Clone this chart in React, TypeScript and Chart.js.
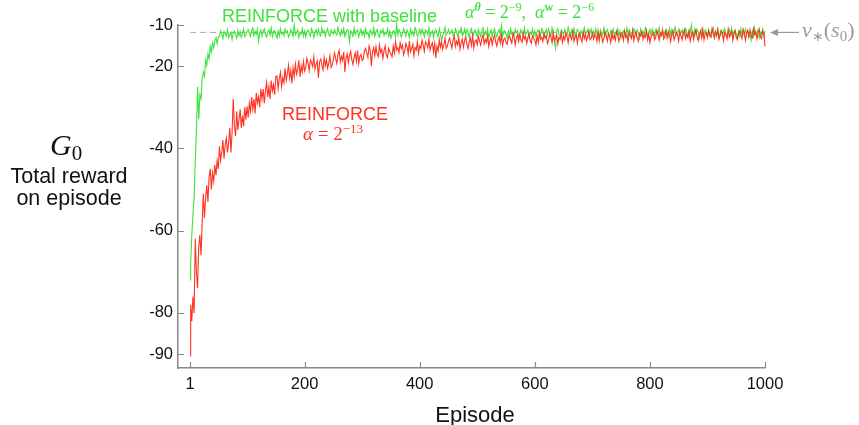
import React, { useEffect, useRef } from "react";
import { Chart, registerables } from "chart.js";

Chart.register(...registerables);

// Episodes sampled every 2 episodes (1, 2, 4, ..., 1000)
const EPISODES: number[] = [1, ...Array.from({ length: 500 }, (_, i) => (i + 1) * 2)];

const X_TICKS = [1, 200, 400, 600, 800, 1000];
const Y_TICKS = [-10, -20, -40, -60, -80, -90];
const V_STAR = -11.8;

// REINFORCE with baseline (alpha^theta = 2^-9, alpha^w = 2^-6)
const BASELINE_RETURN = [
  -72,
  -68, -61, -56, -52, -43, -36, -25, -33, -27, -28, -23, -21.5, -22.5, -18.5, -19.8, -17, -18.2, -15.2, -16.6, -14.4, -15.6, -13.8, -13.1, -14.6, -12.9,
  -12.8, -11.4, -12.2, -13.3, -11.6, -12.0, -12.7, -11.1, -13.1, -12.3, -11.8, -13.5, -11.9, -11.5, -12.4, -13.2, -11.3, -12.6, -11.6, -13.0, -12.2, -11.0, -12.8, -12.4, -11.5,
  -11.1, -12.0, -12.8, -11.4, -10.7, -12.6, -11.6, -12.3, -11.0, -13.9, -11.9, -11.2, -12.7, -11.5, -10.9, -12.2, -12.9, -11.8, -11.1, -12.4, -10.7, -12.8, -11.6, -11.4, -12.3,
  -13.2, -11.5, -12.7, -10.9, -12.2, -11.8, -12.6, -11.0, -11.9, -11.4, -12.9, -12.3, -11.1, -11.6, -12.8, -10.0, -12.4, -11.9, -11.2, -13.1, -11.8, -12.2, -10.9, -12.7, -11.5,
  -12.9, -11.6, -11.2, -12.0, -12.7, -10.9, -11.5, -13.1, -11.8, -11.1, -12.4, -11.0, -12.2, -12.6, -10.7, -11.9, -11.4, -12.8, -11.6, -10.9, -12.3, -12.7, -11.2, -11.8, -12.2,
  -11.1, -12.0, -12.4, -10.6, -11.8, -12.6, -11.2, -12.2, -10.9, -12.8, -12.0, -11.1, -11.5, -14.1, -11.4, -11.9, -12.7, -10.7, -12.3, -11.6, -11.2, -12.9, -11.8, -11.0, -12.4,
  -11.5, -12.7, -10.9, -12.2, -11.8, -13.1, -11.2, -11.9, -12.4, -10.7, -12.8, -11.6, -11.1, -12.3, -12.9, -11.4, -11.9, -11.0, -12.6, -11.8, -12.2, -10.9, -12.7, -11.5, -13.2,
  -12.3, -11.4, -11.6, -12.8, -9.9, -12.4, -11.1, -11.8, -12.9, -12.2, -10.9, -11.5, -12.7, -11.2, -11.9, -13.1, -11.0, -12.3, -11.6, -12.6, -10.7, -11.4, -12.8, -12.0, -11.1,
  -12.4, -11.0, -11.8, -12.9, -11.2, -11.6, -12.3, -10.7, -12.7, -11.9, -11.4, -13.1, -11.5, -11.1, -12.0, -12.8, -10.9, -12.2, -13.8, -12.6, -11.8, -10.6, -12.4, -12.0, -11.1,
  -12.2, -11.8, -11.2, -12.7, -12.3, -10.9, -11.6, -12.8, -11.4, -11.9, -10.7, -12.6, -12.2, -11.0, -12.4, -11.1, -11.8, -13.1, -11.5, -10.9, -12.7, -12.0, -11.2, -11.6, -12.9,
  -11.1, -12.0, -12.8, -11.4, -10.7, -12.6, -11.6, -12.3, -11.0, -13.1, -11.9, -11.2, -12.7, -11.5, -10.9, -12.2, -12.9, -11.8, -11.1, -12.4, -10.1, -12.8, -11.6, -11.4, -12.3,
  -13.2, -11.5, -12.7, -10.9, -12.2, -11.8, -12.6, -11.0, -11.9, -11.4, -12.9, -12.3, -11.1, -11.6, -12.8, -10.7, -12.4, -11.9, -11.2, -13.1, -11.8, -12.2, -10.9, -12.7, -11.5,
  -12.9, -11.6, -11.2, -12.0, -12.7, -10.9, -11.5, -13.1, -11.8, -11.1, -12.4, -11.0, -12.2, -12.6, -10.7, -11.9, -14.2, -15.6, -11.6, -10.9, -12.3, -12.7, -11.2, -11.8, -12.2,
  -11.1, -12.0, -12.4, -10.6, -11.8, -12.6, -11.2, -12.2, -10.9, -12.8, -12.0, -11.1, -11.5, -13.1, -11.4, -11.9, -12.7, -10.7, -12.3, -11.6, -11.2, -12.9, -11.8, -11.0, -12.4,
  -11.5, -12.7, -10.9, -12.2, -11.8, -13.9, -11.2, -11.9, -12.4, -10.7, -12.8, -11.6, -11.1, -12.3, -12.9, -11.4, -11.9, -11.0, -12.6, -11.8, -12.2, -10.9, -12.7, -11.5, -13.2,
  -12.3, -11.4, -11.6, -12.8, -10.7, -12.4, -11.1, -11.8, -12.9, -12.2, -10.9, -11.5, -12.7, -11.2, -11.9, -13.1, -11.0, -12.3, -11.6, -12.6, -10.7, -11.4, -12.8, -12.0, -11.1,
  -12.4, -11.0, -11.8, -12.9, -11.2, -11.6, -12.3, -10.7, -12.7, -11.9, -11.4, -13.1, -11.5, -11.1, -12.0, -12.8, -10.9, -12.2, -11.2, -12.6, -11.8, -10.6, -12.4, -12.0, -11.1,
  -12.2, -11.8, -11.2, -12.7, -12.3, -10.9, -11.6, -12.8, -11.4, -11.9, -10.0, -12.6, -12.2, -11.0, -12.4, -11.1, -11.8, -13.1, -11.5, -10.9, -12.7, -12.0, -11.2, -11.6, -12.9,
  -11.1, -12.0, -12.8, -11.4, -10.7, -12.6, -11.6, -12.3, -11.0, -13.1, -11.9, -11.2, -12.7, -11.5, -10.9, -12.2, -12.9, -11.8, -11.1, -12.4, -10.7, -12.8, -11.6, -11.4, -12.3,
  -13.2, -11.5, -12.7, -10.9, -12.2, -11.8, -12.6, -11.0, -11.9, -11.4, -12.9, -12.3, -13.7, -11.6, -12.8, -10.7, -12.4, -11.9, -11.2, -13.1, -11.8, -12.2, -10.9, -12.7, -11.5,
];

// REINFORCE (alpha = 2^-13)
const REINFORCE_RETURN = [
  -90.5,
  -78, -82, -76, -80, -62, -70, -74, -64, -61, -66, -58, -51, -57, -52, -49, -53, -47, -45, -50, -46, -48, -44, -46.5, -43, -45,
  -39.5, -43, -41, -38, -42.5, -39, -37.5, -41, -38.5, -35, -41, -36, -28, -34.5, -37, -31, -35.5, -33, -30.5, -35, -32, -34.6, -30, -33, -29.8,
  -32.5, -29, -31, -27.5, -30.5, -28, -31.5, -26.5, -29, -27.5, -30, -25.5, -28, -25.6, -29, -26, -24, -27.5, -25, -28, -23.5, -26, -24.5, -27, -22.5,
  -22.4, -25.5, -23, -21.5, -25, -22.8, -24, -20.5, -23.5, -21.8, -19.8, -23, -21, -24.2, -20.4, -22.5, -19.5, -22, -20.8, -18.6, -22.6, -20, -21.4, -18.9, -21.2,
  -20.3, -18.1, -19.3, -21.1, -18.5, -19.1, -20.1, -17.7, -20.7, -19.5, -18.7, -22.8, -18.9, -18.3, -19.7, -20.9, -17.9, -19.9, -18.5, -20.5, -19.3, -17.5, -20.3, -19.7, -18.3,
  -16.8, -18.2, -19.4, -17.2, -16.2, -19.0, -17.6, -18.6, -16.6, -21.4, -18.0, -17.0, -19.2, -17.4, -16.4, -18.4, -19.6, -17.8, -16.8, -18.8, -16.2, -19.4, -17.6, -17.2, -18.6,
  -18.3, -16.3, -15.7, -16.9, -17.9, -15.1, -16.1, -20.0, -16.5, -15.5, -17.5, -15.3, -17.1, -17.7, -14.9, -16.7, -15.9, -18.1, -16.3, -15.1, -17.3, -17.9, -15.7, -16.5, -17.1,
  -17.7, -15.1, -16.9, -14.1, -16.1, -15.5, -16.7, -14.3, -15.7, -14.9, -17.3, -16.3, -14.5, -15.3, -17.1, -13.9, -16.5, -15.7, -14.7, -17.5, -15.5, -16.1, -14.1, -16.9, -15.1,
  -15.7, -13.7, -14.8, -16.4, -14.1, -14.6, -15.5, -13.4, -16.1, -15.0, -14.3, -16.6, -14.5, -18.0, -15.2, -16.3, -13.6, -15.4, -14.1, -15.9, -14.8, -13.2, -15.7, -15.2, -13.9,
  -13.2, -14.5, -15.6, -13.6, -12.7, -15.2, -13.9, -14.8, -13.0, -15.9, -14.3, -13.4, -15.4, -13.8, -12.9, -14.7, -15.7, -14.1, -13.2, -15.0, -12.7, -15.6, -13.9, -13.6, -14.8,
  -12.8, -14.0, -14.9, -13.2, -12.4, -14.6, -13.5, -14.3, -12.7, -15.2, -13.8, -13.0, -14.8, -13.3, -12.5, -14.1, -15.1, -13.6, -12.8, -14.4, -12.4, -14.9, -13.5, -13.2, -14.3,
  -14.7, -13.1, -12.6, -13.6, -14.4, -12.1, -12.9, -14.8, -13.2, -12.4, -14.0, -12.3, -13.7, -14.2, -12.0, -13.4, -12.8, -14.5, -13.1, -12.1, -13.9, -14.4, -12.6, -13.2, -13.7,
  -14.8, -12.7, -14.2, -11.9, -13.5, -13.0, -14.0, -12.1, -13.2, -12.6, -14.5, -13.7, -12.2, -12.9, -14.3, -11.8, -13.8, -13.2, -12.4, -14.6, -13.0, -13.5, -11.9, -14.2, -12.7,
  -13.6, -11.9, -12.8, -14.3, -12.2, -12.7, -13.5, -11.6, -14.0, -13.0, -12.4, -14.4, -12.5, -12.0, -13.2, -14.1, -11.7, -13.3, -12.2, -13.8, -12.8, -11.4, -13.6, -13.2, -12.0,
  -13.4, -12.3, -12.6, -14.0, -11.5, -13.5, -11.9, -12.7, -14.2, -13.2, -11.6, -12.4, -13.9, -12.1, -12.9, -14.3, -11.8, -13.4, -12.6, -13.7, -11.5, -12.3, -14.0, -13.1, -11.9,
  -12.2, -13.7, -11.4, -13.0, -12.5, -14.1, -11.9, -12.7, -13.3, -11.3, -13.8, -12.4, -11.7, -13.2, -14.0, -12.1, -12.7, -11.6, -13.5, -12.5, -13.0, -11.4, -13.7, -12.2, -14.3,
  -12.9, -12.4, -11.8, -13.6, -13.1, -11.3, -12.3, -13.7, -12.0, -12.6, -11.2, -13.4, -12.9, -11.5, -13.2, -11.6, -12.4, -14.0, -12.1, -11.3, -13.6, -12.8, -11.8, -12.3, -13.9,
  -11.5, -12.7, -13.6, -11.9, -11.1, -13.3, -12.2, -13.0, -11.4, -13.9, -12.5, -11.7, -13.5, -12.0, -11.2, -12.8, -13.8, -12.3, -11.5, -13.1, -11.1, -13.6, -12.2, -11.9, -13.0,
  -11.4, -12.6, -13.0, -10.8, -12.2, -13.2, -11.6, -12.7, -11.1, -13.5, -12.6, -11.4, -11.9, -13.8, -11.8, -12.4, -13.4, -11.0, -12.9, -12.1, -11.6, -13.7, -12.2, -11.3, -13.0,
  -13.6, -12.0, -11.5, -12.5, -13.3, -11.0, -11.8, -13.7, -12.1, -11.3, -12.9, -11.2, -12.6, -13.1, -10.9, -12.3, -11.7, -13.4, -12.0, -11.0, -12.8, -13.3, -11.5, -12.1, -15.2,
];

const GREEN = "#3fe23a";
const RED = "#ff3322";
const AXIS = "#8a8a8a";
const GREY_TXT = "#9a9a9a";
const SANS = "'Liberation Sans', Arial, Helvetica, sans-serif";
const SERIF = "'Liberation Serif', 'Times New Roman', serif";

type Run = [string, string, number];

function drawRuns(ctx: CanvasRenderingContext2D, x: number, y: number, runs: Run[]) {
  let cx = x;
  for (const [t, f, dy] of runs) {
    ctx.font = f;
    ctx.fillText(t, cx, y + dy);
    cx += ctx.measureText(t).width;
  }
}

const annotations = {
  id: "annotations",
  afterDraw(chart: any) {
    const ctx: CanvasRenderingContext2D = chart.ctx;
    const xs = chart.scales.x;
    const ys = chart.scales.y;
    const ca = chart.chartArea;
    ctx.save();

    // inward tick marks
    ctx.strokeStyle = AXIS;
    ctx.lineWidth = 1.2;
    ctx.beginPath();
    X_TICKS.forEach((v) => {
      const px = Math.round(xs.getPixelForValue(v)) + 0.5;
      ctx.moveTo(px, ca.bottom);
      ctx.lineTo(px, ca.bottom - 6);
    });
    Y_TICKS.forEach((v) => {
      const py = Math.round(ys.getPixelForValue(v)) + 0.5;
      ctx.moveTo(ca.left, py);
      ctx.lineTo(ca.left + 6, py);
    });
    ctx.stroke();

    // v*(s0) arrow
    const vy = ys.getPixelForValue(V_STAR);
    const ax0 = xs.getPixelForValue(1000) + 5;
    ctx.strokeStyle = GREY_TXT;
    ctx.fillStyle = GREY_TXT;
    ctx.lineWidth = 1.2;
    ctx.beginPath();
    ctx.moveTo(ax0 + 4, vy);
    ctx.lineTo(ax0 + 29, vy);
    ctx.stroke();
    ctx.beginPath();
    ctx.moveTo(ax0, vy);
    ctx.lineTo(ax0 + 8, vy - 3.5);
    ctx.lineTo(ax0 + 8, vy + 3.5);
    ctx.closePath();
    ctx.fill();

    ctx.textBaseline = "alphabetic";
    ctx.textAlign = "left";
    drawRuns(ctx, ax0 + 32, vy + 5, [
      ["v", `italic 22px ${SERIF}`, 0],
      ["∗", `14px ${SERIF}`, 4],
      ["(", `22px ${SERIF}`, 0],
      ["s", `italic 22px ${SERIF}`, 0],
      ["0", `15px ${SERIF}`, 4],
      [")", `22px ${SERIF}`, 0],
    ]);

    // Series labels
    ctx.fillStyle = GREEN;
    ctx.font = `18px ${SANS}`;
    ctx.fillText("REINFORCE with baseline", 222, 22);
    drawRuns(ctx, 465, 18, [
      ["α", `italic 18px ${SERIF}`, 0],
      ["θ", `italic bold 12px ${SERIF}`, -7],
      [" = 2", `18px ${SERIF}`, 0],
      ["−9", `12px ${SERIF}`, -7],
      [",  ", `18px ${SERIF}`, 0],
      ["α", `italic 18px ${SERIF}`, 0],
      ["w", `bold 12px ${SERIF}`, -7],
      [" = 2", `18px ${SERIF}`, 0],
      ["−6", `12px ${SERIF}`, -7],
    ]);

    ctx.fillStyle = RED;
    ctx.font = `18px ${SANS}`;
    ctx.fillText("REINFORCE", 282, 120);
    drawRuns(ctx, 303, 140, [
      ["α", `italic 19px ${SERIF}`, 0],
      [" = 2", `19px ${SERIF}`, 0],
      ["−13", `13px ${SERIF}`, -7],
    ]);

    // Y axis title
    ctx.fillStyle = "#111";
    drawRuns(ctx, 50, 155, [
      ["G", `italic 30px ${SERIF}`, 0],
      ["0", `21px ${SERIF}`, 5],
    ]);
    ctx.textAlign = "center";
    ctx.font = `21.5px ${SANS}`;
    ctx.fillText("Total reward", 69, 183);
    ctx.fillText("on episode", 69, 205);

    // X axis title
    ctx.font = `22px ${SANS}`;
    ctx.fillText("Episode", 475, 422);

    ctx.restore();
  },
};

export default function App() {
  const ref = useRef<HTMLCanvasElement>(null);

  useEffect(() => {
    const canvas = ref.current;
    if (!canvas) return;
    const chart = new Chart(canvas, {
      type: "line",
      data: {
        datasets: [
          {
            label: "REINFORCE",
            data: EPISODES.map((e, i) => ({ x: e, y: REINFORCE_RETURN[i] })),
            borderColor: RED,
            borderWidth: 1.1,
            pointRadius: 0,
            tension: 0,
            order: 0,
            clip: false as any,
          },
          {
            label: "REINFORCE with baseline",
            data: EPISODES.map((e, i) => ({ x: e, y: BASELINE_RETURN[i] })),
            borderColor: GREEN,
            borderWidth: 1.1,
            pointRadius: 0,
            tension: 0,
            order: 1,
            clip: false as any,
          },
          {
            label: "v*(s0)",
            data: [
              { x: 1, y: V_STAR },
              { x: 1000, y: V_STAR },
            ],
            borderColor: "#aaaaaa",
            borderWidth: 1,
            borderDash: [6, 4],
            pointRadius: 0,
            order: 2,
          },
        ],
      },
      options: {
        animation: false,
        responsive: false,
        maintainAspectRatio: false,
        layout: { padding: { left: 0, right: 94, top: 25, bottom: 0 } },
        plugins: {
          legend: { display: false },
          tooltip: { enabled: false },
        },
        scales: {
          x: {
            type: "linear",
            min: -20,
            max: 1000,
            grid: { display: false, drawTicks: false },
            border: { display: true, color: AXIS, width: 1.5 },
            afterBuildTicks: (s: any) => {
              s.ticks = X_TICKS.map((v) => ({ value: v }));
            },
            afterFit: (s: any) => {
              s.height = 57;
            },
            ticks: {
              autoSkip: false,
              maxRotation: 0,
              padding: 7,
              color: "#111",
              font: { family: "'Liberation Sans', Arial, sans-serif", size: 16.5 },
              callback: (v: any) => String(v),
            },
          },
          y: {
            type: "linear",
            min: -93.4,
            max: -10,
            grid: { display: false, drawTicks: false },
            border: { display: true, color: AXIS, width: 1.5 },
            afterBuildTicks: (s: any) => {
              s.ticks = Y_TICKS.map((v) => ({ value: v }));
            },
            afterFit: (s: any) => {
              s.width = 178;
            },
            ticks: {
              autoSkip: false,
              padding: 5,
              color: "#111",
              font: { family: "'Liberation Sans', Arial, sans-serif", size: 16.5 },
              callback: (v: any) => String(v),
            },
          },
        },
      },
      plugins: [annotations],
    });
    return () => chart.destroy();
  }, []);

  return (
    <div style={{ position: "absolute", left: 0, top: 0, width: 859, height: 425, background: "#fff" }}>
      <canvas ref={ref} width={859} height={425} style={{ display: "block", width: 859, height: 425 }} />
    </div>
  );
}
